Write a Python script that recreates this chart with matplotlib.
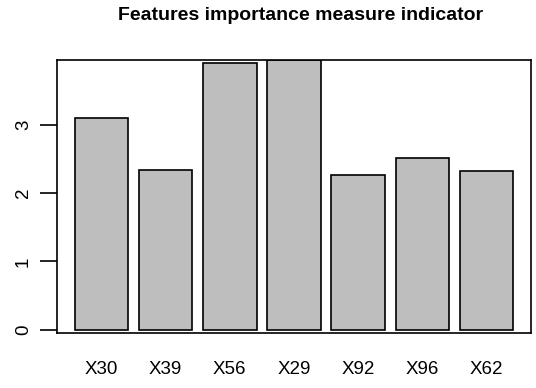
import matplotlib
matplotlib.use("Agg")
import matplotlib.pyplot as plt

categories = ["X30", "X39", "X56", "X29", "X92", "X96", "X62"]
values = [3.10, 2.34, 3.90, 3.95, 2.26, 2.51, 2.32]
yticks = [0, 1, 2, 3]

plt.rcParams['font.family'] = ['Liberation Sans', 'DejaVu Sans']

fig = plt.figure(figsize=(5.36, 3.88), dpi=100)
ax = fig.add_axes([57/536, 55/388, 474/536, 273/388])

centers = [0.7 + 1.2 * i for i in range(len(categories))]
ax.bar(centers, values, width=1.0, color="#BEBEBE", edgecolor="black", linewidth=1.2)

ax.set_xlim(0.2 - 0.328, 8.4 + 0.328)
ax.set_ylim(-0.05, 3.95)
ax.set_xticks(centers)
ax.set_xticklabels(categories, fontsize=13.5)
ax.tick_params(axis='x', length=0, pad=20)
ax.set_yticks(yticks)
ax.set_yticklabels([str(t) for t in yticks], fontsize=13.5, rotation=90, va='center')
ax.tick_params(axis='y', length=12, width=1.2, pad=6)
for s in ax.spines.values():
    s.set_linewidth(1.2)

fig.text(301/536, 1 - 16/388, "Features importance measure indicator",
         ha='center', va='center', fontsize=14, fontweight='bold')

fig.savefig("out.png", dpi=100)
